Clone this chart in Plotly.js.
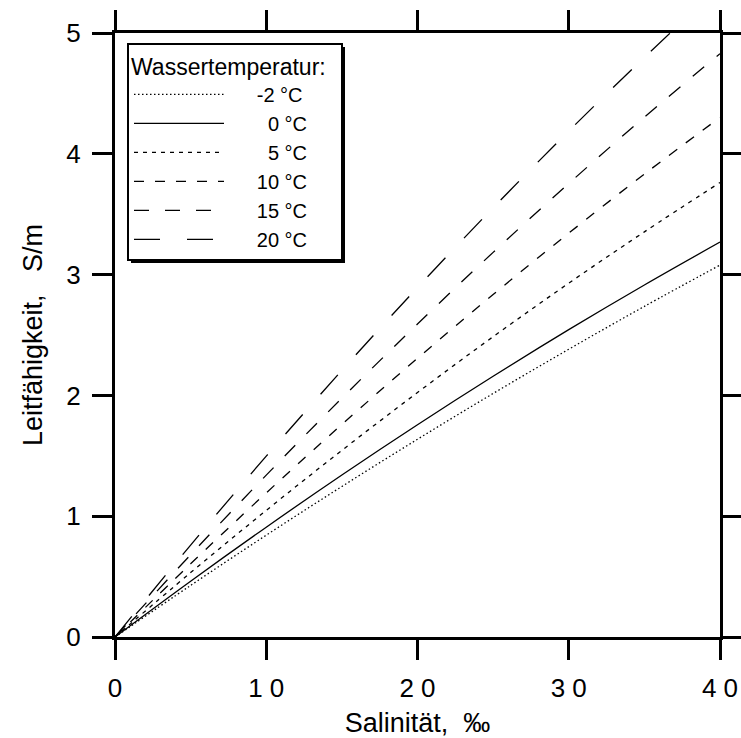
<!DOCTYPE html>
<html>
<head>
<meta charset="utf-8">
<script src="https://cdn.plot.ly/plotly-3.0.1.min.js"></script>
<style>html,body{margin:0;padding:0;background:#fff;}#chart{width:741px;height:738px;}</style>
</head>
<body>
<div id="chart"></div>
<script>
// Salinity (‰)
var salinity = [0, 5, 10, 15, 20, 25, 30, 35, 40];
// Conductivity (S/m), one array per water temperature
var cond_m2 = [0, 0.427, 0.843, 1.246, 1.637, 2.016, 2.382, 2.737, 3.079];
var cond_0  = [0, 0.462, 0.909, 1.341, 1.757, 2.158, 2.544, 2.914, 3.269];
var cond_5  = [0, 0.533, 1.048, 1.545, 2.024, 2.486, 2.929, 3.354, 3.762];
var cond_10 = [0, 0.606, 1.193, 1.760, 2.307, 2.835, 3.343, 3.832, 4.301];
var cond_15 = [0, 0.681, 1.340, 1.977, 2.591, 3.184, 3.754, 4.303, 4.829];
var cond_20 = [0, 0.761, 1.497, 2.207, 2.893, 3.553, 4.188, 4.798, 5.383];

var PAD = "\u00A0\u00A0\u00A0\u00A0\u00A0";
var seriesNames = [PAD + "-2 \u00B0C", PAD + "\u20070 \u00B0C", PAD + "\u20075 \u00B0C", PAD + "10 \u00B0C", PAD + "15 \u00B0C", PAD + "20 \u00B0C"];
var seriesValues = [cond_m2, cond_0, cond_5, cond_10, cond_15, cond_20];
var seriesDash = ["1.5px,2.5px", "solid", "4px,5px", "10px,11px", "15px,16px", "26px,27px"];

var xTickVals = [0, 10, 20, 30, 40];
var xTickText = ["0", "1 0", "2 0", "3 0", "4 0"];
var yTickVals = [0, 1, 2, 3, 4, 5];

var FONT = "Liberation Sans, Arial, sans-serif";

var traces = seriesValues.map(function (v, i) {
  return {
    x: salinity, y: v, type: "scatter", mode: "lines",
    name: seriesNames[i],
    line: {color: "#000", width: 1.3, dash: seriesDash[i], shape: "spline"},
    hoverinfo: "skip"
  };
});

var L = 115, R = 21, T = 33, B = 101;
var W = 741 - L - R, H = 738 - T - B;
function px(xp) { return (xp - L) / W; }
function py(yp) { return (738 - B - yp) / H; }

var layout = {
  width: 741, height: 738,
  margin: {l: L, r: R, t: T, b: B},
  paper_bgcolor: "#fff", plot_bgcolor: "#fff",
  font: {family: FONT, color: "#000", size: 26},
  showlegend: true,
  legend: {
    x: px(127), y: py(43), xanchor: "left", yanchor: "top",
    bgcolor: "#fff", bordercolor: "#000", borderwidth: 2,
    font: {family: FONT, size: 20, color: "#000"},
    title: {text: "Wassertemperatur:\u00A0\u00A0", font: {family: FONT, size: 23, color: "#000"}},
    itemwidth: 90, tracegroupgap: 0
  },
  xaxis: {
    range: [0, 40], tickvals: xTickVals, ticktext: xTickText,
    showline: true, linecolor: "#000", linewidth: 3, mirror: "ticks",
    ticks: "outside", ticklen: 20, tickwidth: 3, tickcolor: "#000",
    showgrid: false, zeroline: false,
    tickfont: {family: FONT, size: 26}, ticklabelstandoff: 6,
    title: {text: "Salinit\u00E4t,\u00A0 \u2030", font: {family: FONT, size: 27}, standoff: 12}
  },
  yaxis: {
    range: [0, 5], tickvals: yTickVals,
    showline: true, linecolor: "#000", linewidth: 3, mirror: "ticks",
    ticks: "outside", ticklen: 20, tickwidth: 3, tickcolor: "#000",
    showgrid: false, zeroline: false,
    tickfont: {family: FONT, size: 26}, ticklabelstandoff: 6,
    title: {text: "Leitf\u00E4higkeit,\u00A0\u00A0 S/m", font: {family: FONT, size: 27}, standoff: 16}
  },
  shapes: []
};

Plotly.newPlot("chart", traces, layout, {displayModeBar: false, staticPlot: true}).then(function (gd) {
  // drop shadow behind the legend box
  var bg = gd.querySelector(".legend .bg");
  if (bg) {
    var r = bg.getBoundingClientRect();
    var c = gd.getBoundingClientRect();
    var x0 = r.left - c.left + 3, x1 = r.right - c.left + 3;
    var y0 = r.top - c.top + 3, y1 = r.bottom - c.top + 3;
    Plotly.relayout(gd, {shapes: [{
      type: "rect", xref: "paper", yref: "paper", layer: "above",
      x0: px(x0), x1: px(x1), y0: py(y1), y1: py(y0),
      fillcolor: "#000", line: {width: 0}
    }]});
  }
});
</script>
</body>
</html>
